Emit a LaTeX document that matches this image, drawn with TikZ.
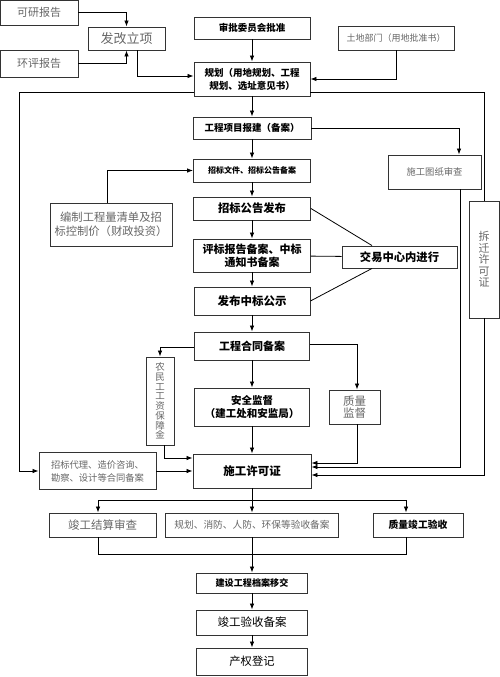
\documentclass[tikz,border=0pt]{standalone}
\usepackage{fontspec}
\setmainfont{Noto Sans CJK SC}
\usetikzlibrary{positioning,arrows.meta,calc}

\begin{document}
\begin{tikzpicture}[on grid,>={Latex[length=6pt,width=4.5pt]},line width=0.8pt,
   box/.style={draw=black!80,line width=0.9pt,inner sep=0pt,align=center},
   sz/.style 2 args={minimum width=#1pt,minimum height=#2pt},
   fnt/.style 2 args={font=\fontsize{#1}{#2}\selectfont},
   bfnt/.style 2 args={font=\fontsize{#1}{#2}\selectfont\bfseries},
   dim/.style={text=black!60}]
   \useasboundingbox (0,0) rectangle (500pt,-677pt);

   % main column
   \node[box,sz={116}{22},bfnt={9.5}{12}] (shenpi) at (252pt,-28pt) {审批委员会批准};
   \node[box,sz={116}{34},bfnt={9.5}{13}] (guihua) [below=51pt of shenpi] {规划（用地规划、工程\\规划、选址意见书）};
   \node[box,sz={118}{22},bfnt={9.5}{12}] (baojian) [below=49pt of guihua] {工程项目报建（备案）};
   \node[box,sz={117}{23},bfnt={8}{10}] (zbwj) [below=42.5pt of baojian] {招标文件、招标公告备案};
   \node[box,sz={117}{23},bfnt={11.3}{13}] (zbfb) [below=38pt of zbwj] {招标公告发布};
   \node[box,sz={117}{33},bfnt={11}{13}] (pingbiao) [below=47pt of zbfb] {评标报告备案、中标\\通知书备案};
   \node[box,sz={116}{28},bfnt={11.5}{13}] (gongshi) [below=45.5pt of pingbiao] {发布中标公示};
   \node[box,sz={115}{28},bfnt={11}{13}] (hetong) [below=45pt of gongshi] {工程合同备案};
   \node[box,sz={115}{38},bfnt={10.5}{12.5}] (anquan) [below=61pt of hetong] {安全监督\\（建工处和安监局）};
   \node[box,sz={118}{34},bfnt={11.5}{13}] (xuke) [below=64pt of anquan] {施工许可证};
   \node[box,sz={173}{24},fnt={9.7}{12},dim] (yanshou) [below=54pt of xuke] {规划、消防、人防、环保等验收备案};
   \node[box,sz={111}{20},bfnt={9.1}{11}] (dangan) [below=58pt of yanshou] {建设工程档案移交};
   \node[box,sz={111}{25},fnt={11.5}{13}] (jgba) [below=39.5pt of dangan] {竣工验收备案};
   \node[box,sz={111}{27},fnt={11.3}{13}] (chanquan) [below=39pt of jgba] {产权登记};

   % side boxes
   \node[box,sz={77}{23},fnt={13}{15},dim] (fagai) [below left=10.5pt and 125.5pt of shenpi] {发改立项};
   \node[box,sz={78}{25},fnt={11}{13},dim] (kyan) [above left=26pt and 87.5pt of fagai] {可研报告};
   \node[box,sz={78}{27},fnt={11}{13},dim] (huanping) [below left=25pt and 87.5pt of fagai] {环评报告};
   \node[box,sz={116}{24},fnt={9}{11},dim] (tudi) [below right=10pt and 144pt of shenpi] {土地部门（用地批准书）};
   \node[box,sz={93}{34},fnt={9.3}{11},dim] (tuzhi) [below right=44pt and 182.5pt of baojian] {施工图纸审查};
   \node[box,sz={122}{43},fnt={11.3}{14},dim] (bianzhi) [below left=16pt and 141pt of zbfb] {编制工程量清单及招\\标控制价（财政投资）};
   \node[box,sz={115}{22},bfnt={11.3}{13}] (jiaoyi) [below right=1.5pt and 147.5pt of pingbiao] {交易中心内进行};
   \node[box,sz={30}{117},fnt={11}{11.5},dim] (chaiqian) [below right=4pt and 232pt of pingbiao] {拆\\迁\\许\\可\\证};
   \node[box,sz={51}{34},fnt={11.5}{12},dim] (zhiliang) [right=102.5pt of anquan] {质量\\监督};
   \node[box,sz={28}{88},fnt={9.5}{9.7},dim] (nongmin) [above left=6pt and 92pt of anquan] {农\\民\\工\\工\\资\\保\\障\\金};
   \node[box,sz={117}{37},fnt={9.3}{13},dim] (daili) [left=154.5pt of xuke] {招标代理、造价咨询、\\勘察、设计等合同备案};
   \node[box,sz={107}{24},fnt={11.5}{13},dim] (jiesuan) [left=149.5pt of yanshou] {竣工结算审查};
   \node[box,sz={90}{24},bfnt={9.8}{12}] (jungong) [right=166pt of yanshou] {质量竣工验收};

   % main column arrows
   \foreach \a/\b in {shenpi/guihua,guihua/baojian,baojian/zbwj,zbwj/zbfb,zbfb/pingbiao,
      pingbiao/gongshi,gongshi/hetong,hetong/anquan,anquan/xuke,xuke/yanshou,
      yanshou/dangan,dangan/jgba,jgba/chanquan}
      \path[->] (\a) edge (\b);

   % top
   \draw[->] (kyan) -| (fagai);
   \draw[->] (huanping) -| (fagai);
   \draw[->] ([xshift=10.5pt]fagai.south) |- ([yshift=3pt]guihua.west);
   \draw[->] (tudi) |- (guihua);
   \draw ([yshift=-13pt]guihua.east) -| (chaiqian);
   \draw[->] ([yshift=-13pt]guihua.west) -- ++(-174pt,0) |- (daili);

   % middle
   \draw[->] (baojian) -| ([xshift=24.5pt]tuzhi.north);
   \draw[->] ([xshift=-4pt]bianzhi.north) |- (zbwj);
   \draw (zbfb.east) -- ([xshift=-27.5pt]jiaoyi.north);
   \draw (pingbiao) -- (jiaoyi);
   \draw (gongshi.east) -- ([xshift=-27.5pt]jiaoyi.south);
   \draw[->] ([yshift=2pt]hetong.east) -| ([xshift=2.5pt]zhiliang.north);
   \draw[->] ([yshift=-1pt]hetong.west) -| (nongmin);

   % into the permit
   \draw[->] ([xshift=4pt]nongmin.south) |- ([yshift=13pt]xuke.west);
   \draw[->] (daili) -- (xuke);
   \draw[->] ([xshift=2.5pt]zhiliang.south) |- ([yshift=8pt]xuke.east);
   \draw[->] ([xshift=25.5pt]tuzhi.south) |- ([yshift=4pt]xuke.east);
   \draw[->] (chaiqian) |- ([yshift=-4pt]xuke.east);

   % bottom
   \coordinate (fork) at ($(xuke.south)!.5!(yanshou.north)$);
   \draw[->] (fork) -| ([xshift=-4.5pt]jiesuan.north);
   \draw[->] (fork) -| ([xshift=-12pt]jungong.north);
   \coordinate (merge) at ($(yanshou.south)+(0,-17pt)$);
   \draw ([xshift=-4.5pt]jiesuan.south) |- (merge) -| ([xshift=-12pt]jungong.south);
\end{tikzpicture}
\end{document}
